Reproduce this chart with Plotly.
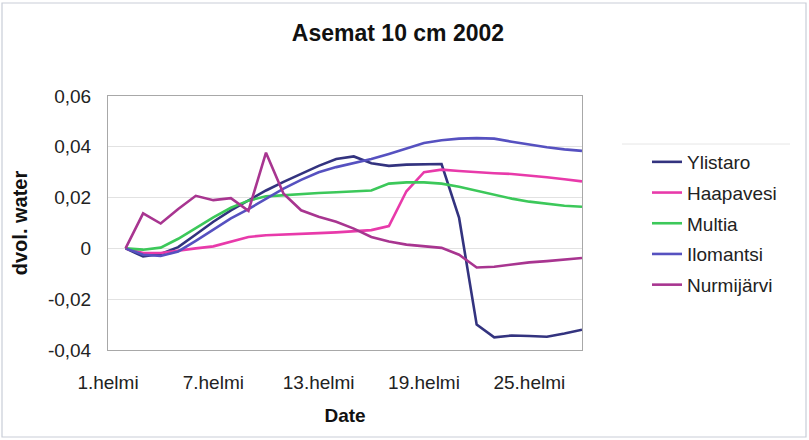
import plotly.graph_objects as go

# February days that carry a measurement (day 1 is the axis origin)
days = list(range(2, 29))

ylistaro = [0, -0.0032, -0.0022, 0.0005, 0.0055, 0.0105, 0.0150, 0.0190, 0.0228,
            0.0262, 0.0295, 0.0325, 0.0352, 0.0362, 0.0335, 0.0325, 0.0330, 0.0332,
            0.0332, 0.0120, -0.0300, -0.0350, -0.0343, -0.0345, -0.0348, -0.0335, -0.0320]
haapavesi = [0, -0.0018, -0.0018, -0.0008, 0.0, 0.0008, 0.0028, 0.0045, 0.0052,
             0.0054, 0.0057, 0.0060, 0.0063, 0.0067, 0.0072, 0.0088, 0.0225, 0.0300,
             0.0310, 0.0305, 0.0300, 0.0296, 0.0293, 0.0287, 0.0280, 0.0272, 0.0264]
multia = [0, -0.0005, 0.0003, 0.0038, 0.0080, 0.0122, 0.0160, 0.0188, 0.0205,
          0.0210, 0.0215, 0.0218, 0.0221, 0.0224, 0.0228, 0.0255, 0.0260, 0.0260,
          0.0255, 0.0243, 0.0228, 0.0210, 0.0196, 0.0184, 0.0175, 0.0168, 0.0164]
ilomantsi = [0, -0.0025, -0.0030, -0.0012, 0.0030, 0.0075, 0.0118, 0.0155, 0.0195,
             0.0235, 0.0270, 0.0300, 0.0320, 0.0335, 0.0352, 0.0372, 0.0395, 0.0415,
             0.0426, 0.0432, 0.0434, 0.0432, 0.0420, 0.0408, 0.0398, 0.0390, 0.0384]
nurmijarvi = [0, 0.0138, 0.0098, 0.0155, 0.0207, 0.0190, 0.0198, 0.0148, 0.0377,
              0.0215, 0.0150, 0.0125, 0.0105, 0.0078, 0.0045, 0.0027, 0.0015, 0.0008,
              0.0002, -0.0025, -0.0075, -0.0072, -0.0063, -0.0055, -0.0050, -0.0045, -0.0038]

series_names = ["Ylistaro", "Haapavesi", "Multia", "Ilomantsi", "Nurmijärvi"]
series_values = [ylistaro, haapavesi, multia, ilomantsi, nurmijarvi]
series_colors = ["#33337f", "#e83aaa", "#3cc85a", "#5651c0", "#a83590"]

x_tick_vals = [1, 7, 13, 19, 25]
x_tick_text = ["1.helmi", "7.helmi", "13.helmi", "19.helmi", "25.helmi"]
y_tick_vals = [0.06, 0.04, 0.02, 0, -0.02, -0.04]
y_tick_text = ["0,06", "0,04", "0,02", "0", "-0,02", "-0,04"]

FONT = "Liberation Sans, Arial, sans-serif"

fig = go.Figure()
for name, vals, col in zip(series_names, series_values, series_colors):
    fig.add_trace(go.Scatter(
        x=days, y=vals, mode="lines", name=name, legendgroup=name,
        line=dict(color=col, width=2.6),
    ))

fig.update_layout(
    width=809, height=440,
    margin=dict(l=108, r=227, t=96, b=90),
    paper_bgcolor="white", plot_bgcolor="white",
    font=dict(family=FONT, size=19, color="#222"),
    title=dict(text="<b>Asemat 10 cm 2002</b>", x=398 / 809, xanchor="center",
               y=1 - 33 / 440, yanchor="middle", font=dict(size=23, color="#111")),
    showlegend=True,
    legend=dict(x=(647 - 108) / 474, y=(350 - 143) / 254, xanchor="left", yanchor="top",
                font=dict(size=19, color="#222"), tracegroupgap=3,
                bgcolor="rgba(0,0,0,0)"),
)

fig.update_xaxes(
    range=[1, 28], tickvals=x_tick_vals, ticktext=x_tick_text,
    showgrid=False, zeroline=False, showline=True, linecolor="#a8a8a8",
    mirror=True, linewidth=1, ticks="outside", ticklen=15, tickcolor="rgba(0,0,0,0)",
    tickfont=dict(size=19),
    title=dict(text="<b>Date</b>", font=dict(size=19, color="#111"), standoff=16),
)
fig.update_yaxes(
    range=[-0.04, 0.06], tickvals=y_tick_vals, ticktext=y_tick_text,
    showgrid=True, gridcolor="#e2e2e2", zeroline=False, showline=True,
    linecolor="#a8a8a8", mirror=True, linewidth=1,
    ticks="outside", ticklen=12, tickcolor="rgba(0,0,0,0)", tickfont=dict(size=19),
    title=dict(text="<b>dvol. water</b>", font=dict(size=20, color="#111"), standoff=14),
)

# outer chart frame and the thin rule above the legend
fig.add_shape(type="rect", xref="paper", yref="paper",
              x0=-106 / 474, x1=(806 - 108) / 474, y0=(350 - 437) / 254, y1=(350 - 3) / 254,
              line=dict(color="#c9cdd8", width=1.2))
fig.add_shape(type="line", xref="paper", yref="paper",
              x0=(622 - 108) / 474, x1=(790 - 108) / 474,
              y0=(350 - 144) / 254, y1=(350 - 144) / 254,
              line=dict(color="#e6e6e6", width=1))

fig.write_html("out.html")
